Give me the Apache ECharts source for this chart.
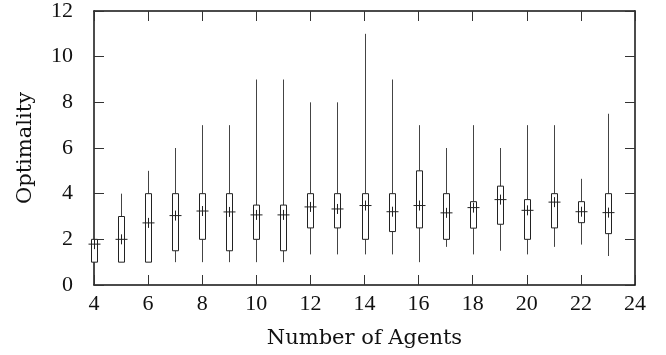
<!DOCTYPE html>
<html><head><meta charset="utf-8">
<script src="https://cdn.jsdelivr.net/npm/echarts@6/dist/echarts.min.js"></script>
<style>html,body{margin:0;padding:0;background:#fff}#c{width:666px;height:355px}</style>
</head><body><div id="c"></div>
<script>
const agents   = [4,5,6,7,8,9,10,11,12,13,14,15,16,17,18,19,20,21,22,23];
const whiskLo  = [1,1,1,1,1,1,1,1,1.34,1.34,1.34,1.34,1,1.67,1.34,1.5,1.34,1.67,1.77,1.27];
const boxLo    = [1,1,1,1.5,2,1.5,2,1.5,2.5,2.5,2,2.34,2.5,2,2.49,2.66,2,2.5,2.73,2.25];
const boxHi    = [2,3,4,4,4,4,3.5,3.5,4,4,4,4,5,4,3.65,4.33,3.74,4,3.65,4];
const whiskHi  = [2,4,5,6,7,7,9,9,8,8,11,9,7,6,7,6,7,7,4.65,7.5];
const meanVal  = [1.79,2.0,2.72,3.04,3.24,3.2,3.07,3.07,3.42,3.33,3.48,3.21,3.48,3.16,3.39,3.74,3.27,3.63,3.21,3.17];
const xTicks = {min:4,max:24,interval:2};
const yTicks = {min:0,max:12,interval:2};

const data = agents.map((a,i)=>[a,whiskLo[i],boxLo[i],boxHi[i],whiskHi[i],meanVal[i]]);
const TICKFONT = 'Liberation Serif';
const NAMEFONT = 'DejaVu Serif';
const chart = echarts.init(document.getElementById('c'));
function ax(extra){
  return Object.assign({
    axisLine:{show:true,onZero:false,lineStyle:{color:'#111',width:1.5}},
    axisTick:{show:true,inside:true,length:10,lineStyle:{color:'#333',width:1}},
    splitLine:{show:false}
  },extra);
}
chart.setOption({
  animation:false,
  grid:{left:94,right:31,top:10,bottom:70},
  xAxis:[
    ax({type:'value',position:'bottom',min:xTicks.min,max:xTicks.max,interval:xTicks.interval,
      name:'Number of Agents',nameLocation:'middle',nameGap:43,
      nameTextStyle:{fontFamily:NAMEFONT,fontSize:21,color:'#111'},
      axisLabel:{fontFamily:TICKFONT,fontSize:22,color:'#111',margin:8}}),
    ax({type:'value',position:'top',min:xTicks.min,max:xTicks.max,interval:xTicks.interval,
      axisLabel:{show:false}})
  ],
  yAxis:[
    ax({type:'value',position:'left',min:yTicks.min,max:yTicks.max,interval:yTicks.interval,
      name:'Optimality',nameLocation:'middle',nameGap:58,
      nameTextStyle:{fontFamily:NAMEFONT,fontSize:21,color:'#111'},
      axisLabel:{fontFamily:TICKFONT,fontSize:22,color:'#111',margin:21}}),
    ax({type:'value',position:'right',min:yTicks.min,max:yTicks.max,interval:yTicks.interval,
      axisLabel:{show:false}})
  ],
  series:[{
    type:'custom',
    xAxisIndex:0,yAxisIndex:0,
    clip:false,
    encode:{x:0,y:[1,2,3,4,5]},
    data:data,
    renderItem:function(params,api){
      const x=api.value(0);
      const pLo=api.coord([x,api.value(1)]);
      const pBl=api.coord([x,api.value(2)]);
      const pBh=api.coord([x,api.value(3)]);
      const pHi=api.coord([x,api.value(4)]);
      const pM=api.coord([x,api.value(5)]);
      const cx=Math.round(pLo[0])+0.5;
      const hw=3, ch=6, cv=5;
      const st={stroke:'#222',lineWidth:1,fill:null};
      return {type:'group',children:[
        {type:'line',shape:{x1:cx,y1:pHi[1],x2:cx,y2:pBh[1]},style:{stroke:'#444',lineWidth:1}},
        {type:'line',shape:{x1:cx,y1:pBl[1],x2:cx,y2:pLo[1]},style:{stroke:'#444',lineWidth:1}},
        {type:'rect',shape:{x:cx-hw,y:pBh[1],width:2*hw,height:pBl[1]-pBh[1]},style:{stroke:'#222',lineWidth:1,fill:'#fff'}},
        {type:'line',shape:{x1:cx-ch,y1:pM[1],x2:cx+ch,y2:pM[1]},style:st},
        {type:'line',shape:{x1:cx,y1:pM[1]-cv,x2:cx,y2:pM[1]+cv},style:st}
      ]};
    }
  }]
});
</script></body></html>
